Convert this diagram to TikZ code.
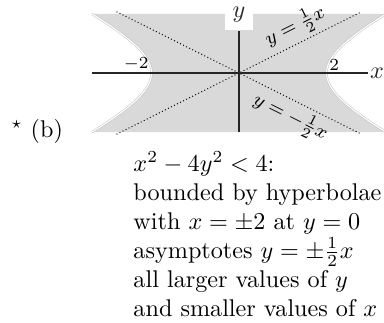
\documentclass[tikz,border=0pt]{standalone}
\usepackage{amsmath,amssymb}
\usepackage{tikz}
\usetikzlibrary{positioning,calc}

\begin{document}
\begin{tikzpicture}[
  x=0.636cm, y=0.636cm,
  band/.style={fill=black!15},
  rim/.style={draw=black!25,double=white,double distance=0.5pt,line width=0.2pt},
  asym/.style={densely dotted,thin},
  axis/.style={semithick,black!85},
  tick/.style={font=\scriptsize,inner sep=1pt},
  slopelbl/.style={font=\footnotesize,sloped,inner sep=1.5pt}
]
\useasboundingbox (-5.463,-5.691) rectangle (3.314,1.669);

% Shaded band between the two branches
\fill[band] (-3.36,1.35) -- (3.36,1.35)
  -- plot[domain=-1.1086:1.1086,samples=40,variable=\t] ({2*cosh(\t)},{-sinh(\t)})
  -- (-3.36,-1.35)
  -- plot[domain=-1.1086:1.1086,samples=40,variable=\t] ({-2*cosh(\t)},{sinh(\t)})
  -- cycle;
\draw[rim] plot[domain=-1.1086:1.1086,samples=40,variable=\t] ({2*cosh(\t)},{sinh(\t)});
\draw[rim] plot[domain=-1.1086:1.1086,samples=40,variable=\t] ({-2*cosh(\t)},{sinh(\t)});

% Points
\coordinate (xl) at (-3.36,0);
\coordinate (xr) at (2.95,0);
\coordinate (yb) at (0,-1.35);
\coordinate (yt) at (0,0.96);
\coordinate (a1) at (-2.8,-1.4);
\coordinate (a2) at (2.8,1.4);
\coordinate (b1) at (-2.8,1.4);
\coordinate (b2) at (2.8,-1.4);

% Asymptotes
\draw[asym] (a1) -- node[slopelbl,above,pos=0.76] (lblp) {$y=\frac12x$} (a2);
\draw[asym] (b1) -- node[slopelbl,below,pos=0.74] (lblm) {$y=-\frac12x$} (b2);

% Axes
\draw[axis] (xl) -- (xr) node[right,inner sep=0.5pt] (xlbl) {$x$};
\draw[axis] (yb) -- (yt) node[above,fill=white] (ylbl) {$y$};
\node[tick,above left] (m2) at (-2,0) {$-2$};
\node[tick,above right] (p2) at (2,0) {$2$};

% Labels
\node[anchor=base west,inner sep=0] (part) at (-5.21,-1.463) {$^{\star}$~(b)};
\node[anchor=north west,inner sep=0,align=left] (desc) at (-2.423,-1.783)
  {$x^2-4y^2<4$:\\
   bounded by hyperbolae\\
   with $x=\pm2$ at $y=0$\\
   asymptotes $y=\pm\frac12x$\\
   all larger values of $y$\\
   and smaller values of $x$};
\end{tikzpicture}
\end{document}
